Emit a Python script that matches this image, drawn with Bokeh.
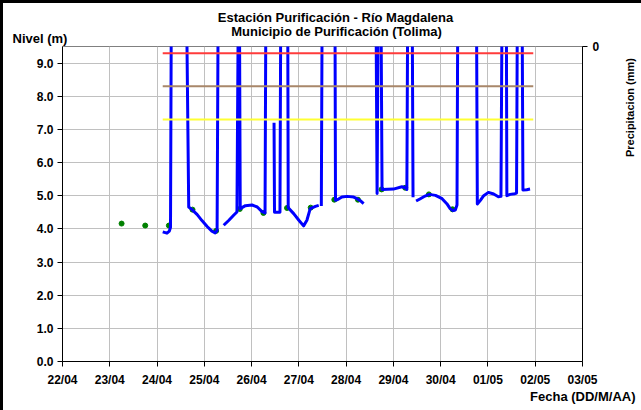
import math
import pandas as pd
from bokeh.plotting import figure
from bokeh.models import (Range1d, LinearAxis, FixedTicker, DatetimeTickFormatter,
                          PrintfTickFormatter, Label, ColumnDataSource)
from bokeh.embed import file_html
from bokeh.resources import INLINE

NAN = float("nan")

# ---- Data ----
# Automatic level record (m). NaN = gap; 10.0 = off-scale spike above the plot top.
nivel_fecha = [
    "2011-04-24 02:53", "2011-04-24 05:02", "2011-04-24 06:14", "2011-04-24 06:50",
    "2011-04-24 07:12", "2011-04-24 15:07", "2011-04-24 16:05", "2011-04-24 17:46",
    "2011-04-24 20:24", "2011-04-24 22:48", "2011-04-25 01:26", "2011-04-25 03:50",
    "2011-04-25 05:31", "2011-04-25 06:29", "2011-04-25 06:58", "2011-04-25 08:24",
    "2011-04-25 09:50", "2011-04-25 12:29", "2011-04-25 14:53", "2011-04-25 16:34",
    "2011-04-25 17:10", "2011-04-25 17:53", "2011-04-25 18:14", "2011-04-25 20:53",
    "2011-04-26 00:14", "2011-04-26 02:53", "2011-04-26 05:17", "2011-04-26 06:50",
    "2011-04-26 07:12", "2011-04-26 09:36",
    "2011-04-26 11:24", "2011-04-26 11:38", "2011-04-26 14:24", "2011-04-26 14:46",
    "2011-04-26 18:22", "2011-04-26 18:36", "2011-04-26 21:22", "2011-04-27 00:00",
    "2011-04-27 02:24", "2011-04-27 04:05", "2011-04-27 05:46", "2011-04-27 08:24",
    "2011-04-27 10:05", "2011-04-27 10:48",
    "2011-04-27 11:24", "2011-04-27 11:46", "2011-04-27 18:22", "2011-04-27 18:36",
    "2011-04-27 20:10", "2011-04-27 21:50", "2011-04-28 00:29", "2011-04-28 03:50",
    "2011-04-28 05:31", "2011-04-28 07:12", "2011-04-28 08:53", "2011-04-28 10:48",
    "2011-04-28 15:14", "2011-04-28 15:43", "2011-04-28 16:12", "2011-04-28 17:46",
    "2011-04-28 18:14", "2011-04-29 00:00", "2011-04-29 04:19", "2011-04-29 06:00",
    "2011-04-29 06:50", "2011-04-29 07:12", "2011-04-29 09:36", "2011-04-29 09:58",
    "2011-04-29 10:48",
    "2011-04-29 11:31", "2011-04-29 13:41", "2011-04-29 16:05", "2011-04-29 18:14",
    "2011-04-29 21:22", "2011-04-30 00:43", "2011-04-30 03:07", "2011-04-30 04:48",
    "2011-04-30 06:14", "2011-04-30 07:26", "2011-04-30 08:17", "2011-04-30 08:38",
    "2011-04-30 18:14", "2011-04-30 18:36", "2011-04-30 20:10", "2011-04-30 21:50",
    "2011-05-01 00:14", "2011-05-01 02:53", "2011-05-01 05:17", "2011-05-01 06:36",
    "2011-05-01 07:05", "2011-05-01 09:22", "2011-05-01 09:36", "2011-05-01 11:17",
    "2011-05-01 13:41", "2011-05-01 14:31", "2011-05-01 14:53", "2011-05-01 17:24",
    "2011-05-01 17:46", "2011-05-01 19:41", "2011-05-01 21:22",
]
nivel_m = [
    3.91, 3.87, 3.93, 4.05,
    10.0, 10.0, 4.66, 4.58,
    4.43, 4.25, 4.07, 3.93,
    3.88, 3.95, 10.0, NAN,
    4.11, 4.26, 4.41, 4.51,
    10.0, 10.0, 4.61, 4.70,
    4.72, 4.66, 4.52, 4.48,
    10.0, NAN,
    7.20, 4.50, 4.50, 10.0,
    10.0, 4.64, 4.46, 4.26,
    4.09, 4.26, 4.61, 4.68,
    4.71, NAN,
    4.69, 10.0, 10.0, 4.86,
    4.90, 4.96, 4.98, 4.96,
    4.91, 4.85, 4.76, NAN,
    10.0, 5.07, 10.0, 10.0,
    5.19, 5.20, 5.27, 5.24,
    5.19, 10.0, 10.0, 4.95,
    NAN,
    4.84, 4.91, 4.99, 5.04,
    5.01, 4.91, 4.76, 4.61,
    4.55, 4.57, 4.72, 10.0,
    10.0, 4.75, 4.86, 5.00,
    5.10, 5.05, 4.97, 4.98,
    10.0, 10.0, 5.00, 5.04,
    5.06, 5.08, 10.0, 10.0,
    5.17, 5.18, 5.20,
]

# Manual readings (green dots), 06:00 and 18:00
lectura_fecha = [
    "2011-04-23 06:00", "2011-04-23 18:00", "2011-04-24 06:00", "2011-04-24 18:00",
    "2011-04-25 06:00", "2011-04-25 18:00", "2011-04-26 06:00", "2011-04-26 18:00",
    "2011-04-27 06:00", "2011-04-27 18:00", "2011-04-28 06:00", "2011-04-28 18:00",
    "2011-04-29 06:00", "2011-04-29 18:00", "2011-04-30 06:00",
]
lectura_m = [4.16, 4.10, 4.10, 4.58, 3.94, 4.60, 4.48, 4.63, 4.64, 4.88, 4.88, 5.19,
             5.24, 5.04, 4.59]

# Alert thresholds (m) and their time span
umbral_fecha = ["2011-04-24 02:53", "2011-05-01 23:00"]
umbral_rojo = 9.3
umbral_marron = 8.3
umbral_amarillo = 7.3

# Axis ticks
fechas_eje = ["2011-04-22", "2011-04-23", "2011-04-24", "2011-04-25", "2011-04-26",
              "2011-04-27", "2011-04-28", "2011-04-29", "2011-04-30", "2011-05-01",
              "2011-05-02", "2011-05-03"]
niveles_eje = [0.0, 1.0, 2.0, 3.0, 4.0, 5.0, 6.0, 7.0, 8.0, 9.0]
precip_eje = [0]

# ---- Figure ----
FONT = "Liberation Sans"
x_dates = pd.to_datetime(fechas_eje)
tick_ms = [int(t.value // 10**6) for t in x_dates]

p = figure(width=641, height=410, x_axis_type="datetime",
           x_range=Range1d(start=x_dates[0], end=x_dates[-1]),
           y_range=Range1d(start=0, end=9.5),
           output_backend="svg", toolbar_location=None, title_location=None,
           min_border_left=62, min_border_right=59, min_border_top=46, min_border_bottom=49)
p.background_fill_color = "white"
p.border_fill_color = None
# chart-area frame visible on the top and left edges only
p.styles = {"background": "linear-gradient(#000, #000) 0 0 / 3px 100% no-repeat, "
                          "linear-gradient(#000, #000) 0 0 / 100% 3px no-repeat, #fff"}
p.outline_line_color = "#808080"
p.outline_line_width = 1

p.extra_y_ranges = {"precip": Range1d(start=100, end=0)}
ax_r = LinearAxis(y_range_name="precip", ticker=FixedTicker(ticks=precip_eje))
p.add_layout(ax_r, "right")

p.xaxis.ticker = FixedTicker(ticks=tick_ms)
p.xgrid.ticker = FixedTicker(ticks=tick_ms)
p.xaxis.formatter = DatetimeTickFormatter(days="%d/%m", months="%d/%m", hours="%d/%m",
                                          hourmin="%d/%m", years="%d/%m")
p.yaxis[0].ticker = FixedTicker(ticks=niveles_eje)
p.ygrid.ticker = FixedTicker(ticks=niveles_eje)
p.yaxis[0].formatter = PrintfTickFormatter(format="%.1f")

for ax in [p.xaxis[0], p.yaxis[0], ax_r]:
    ax.axis_line_color = "black"
    ax.axis_line_width = 1
    ax.major_tick_line_color = "black"
    ax.major_tick_out = 5
    ax.major_tick_in = 0
    ax.minor_tick_line_color = None
    ax.major_label_text_font = FONT
    ax.major_label_text_font_style = "bold"
    ax.major_label_text_font_size = "12px"
    ax.major_label_text_color = "black"
p.xaxis.major_label_standoff = 6
p.yaxis[0].major_label_standoff = 4
ax_r.major_label_standoff = 5

p.xgrid.grid_line_color = "#c0c0c0"
p.ygrid.grid_line_color = "#c0c0c0"

src_n = ColumnDataSource(dict(x=pd.to_datetime(nivel_fecha), y=nivel_m))
src_l = ColumnDataSource(dict(x=pd.to_datetime(lectura_fecha), y=lectura_m))
ux = pd.to_datetime(umbral_fecha)

p.scatter("x", "y", source=src_l, size=5, color="#008000")
p.line("x", "y", source=src_n, line_color="#0000ff", line_width=3, line_join="round")
p.line(ux, [umbral_rojo] * 2, line_color="#ff3b3b", line_width=2)
p.line(ux, [umbral_marron] * 2, line_color="#a8876a", line_width=2)
p.line(ux, [umbral_amarillo] * 2, line_color="#ffff33", line_width=2)

# ---- Texts: labels placed in side panels (not clipped), screen units ----
def lab(text, x, y, side, align="center", baseline="middle", size="13px", angle=0.0):
    p.add_layout(Label(x=x, y=y, x_units="screen", y_units="screen", text=text,
                       text_font=FONT, text_font_style="bold", text_font_size=size,
                       text_align=align, text_baseline=baseline, angle=angle,
                       text_color="black"), side)

lab("Nivel (m)", -50, 8, "above", align="left")
lab("Municipio de Purificación (Tolima)", 274, 0, "above")
lab("Estación Purificación - Río Magdalena", 273, -1, "above")
lab("Precipitacion (mm)", 27, 254, "right", size="11px", angle=math.pi / 2)
lab("Fecha (DD/M/AA)", 573, 8, "below", align="right")

open("out.html", "w").write(file_html(p, INLINE))
